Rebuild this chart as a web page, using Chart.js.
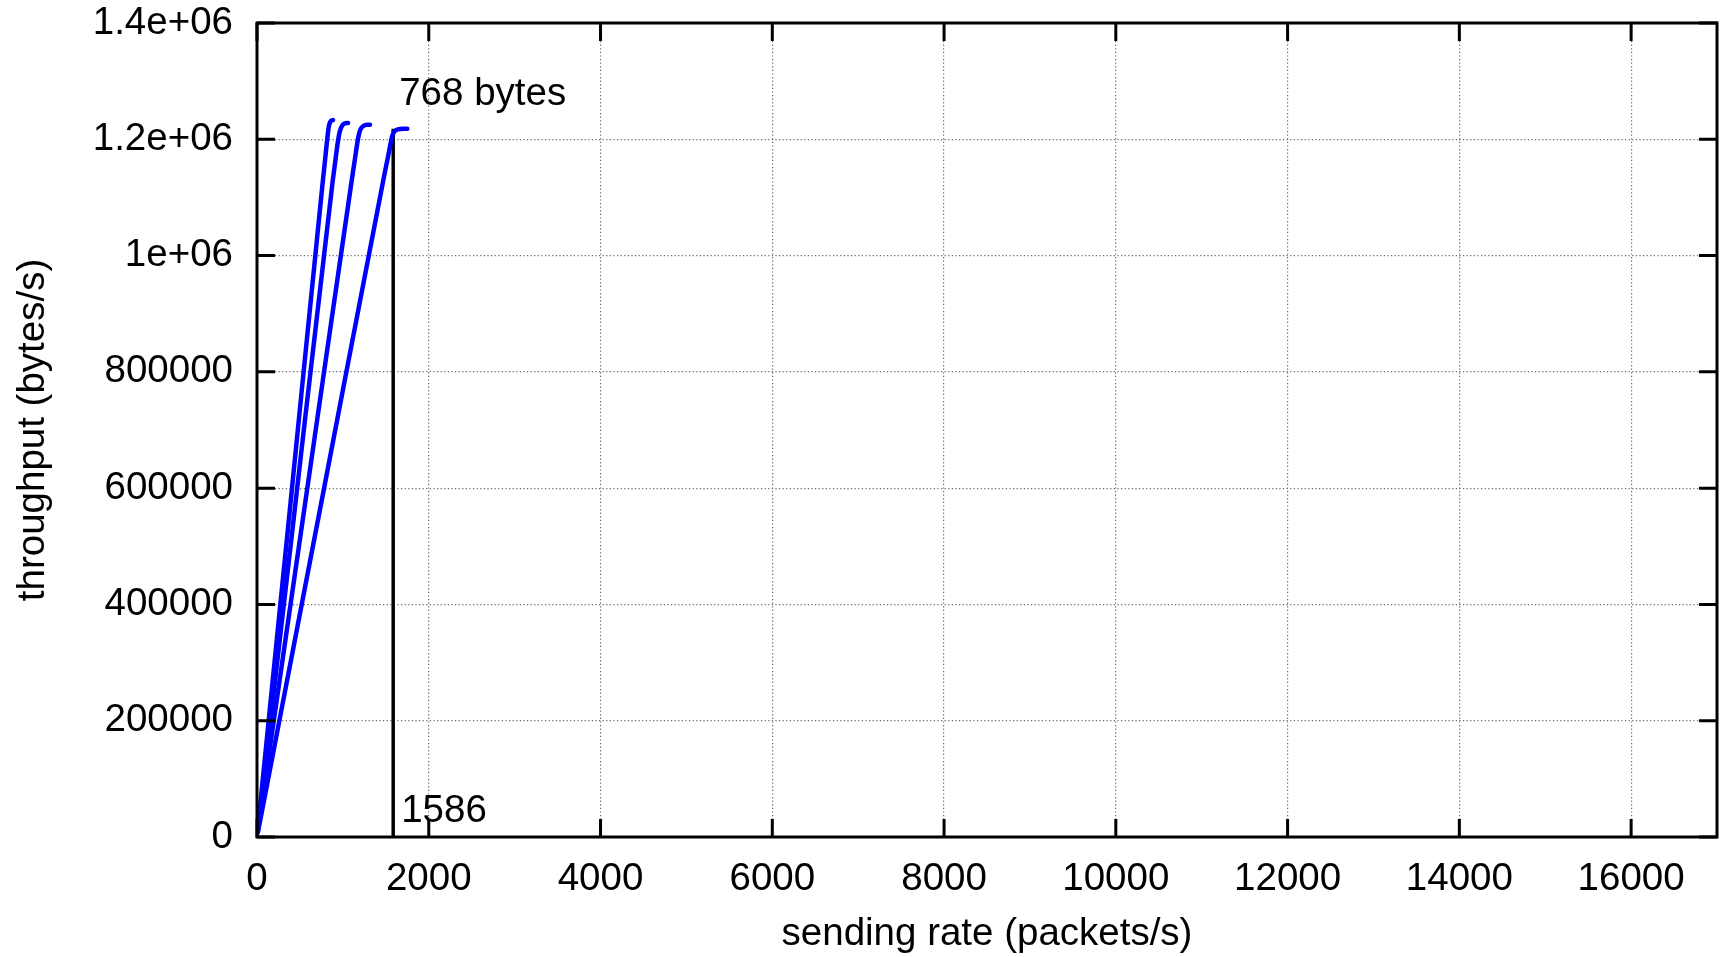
<!DOCTYPE html>
<html>
<head>
<meta charset="utf-8">
<script src="https://cdn.jsdelivr.net/npm/chart.js@4/dist/chart.umd.min.js"></script>
<style>
  html, body { margin: 0; padding: 0; background: #ffffff; }
  #wrap { width: 1725px; height: 957px; position: relative; }
</style>
</head>
<body>
<div id="wrap"><canvas id="c" width="1725" height="957"></canvas></div>
<script>
// Throughput vs sending rate for four packet sizes (bytes)
const packetSizes = [1472, 1280, 1024, 768];

// sending rate (packets/s) and measured throughput (bytes/s) per packet size
const rate1472 = [10, 400, 760, 800, 820, 835, 850, 870, 885];
const thr1472  = [14700, 588800, 1118700, 1175000, 1203000, 1221000, 1229000, 1232500, 1233000];

const rate1280 = [10, 400, 880, 920, 945, 965, 990, 1020, 1060];
const thr1280  = [12800, 512000, 1126400, 1172000, 1199000, 1214000, 1223000, 1227000, 1228000];

const rate1024 = [10, 600, 1100, 1150, 1180, 1205, 1240, 1280, 1315];
const thr1024  = [10240, 614400, 1126400, 1176000, 1204000, 1217000, 1223000, 1225000, 1225000];

const rate768  = [10, 800, 1480, 1540, 1575, 1600, 1640, 1700, 1750];
const thr768   = [7680, 614400, 1136600, 1181000, 1206000, 1213500, 1217000, 1218000, 1218000];

// saturation marker for the 768-byte series
const markRate = 1586;
const markThroughput = 1218048;
const markLabel = '768 bytes';

// axis ticks
const xTickValues = [0, 2000, 4000, 6000, 8000, 10000, 12000, 14000, 16000];
const xTickLabels = ['0', '2000', '4000', '6000', '8000', '10000', '12000', '14000', '16000'];
const yTickValues = [0, 200000, 400000, 600000, 800000, 1000000, 1200000, 1400000];
const yTickLabels = ['0', '200000', '400000', '600000', '800000', '1e+06', '1.2e+06', '1.4e+06'];

const FONT = '"Liberation Sans", Arial, Helvetica, sans-serif';
const FSIZE = 38.5;

function toPoints(xs, ys) { return xs.map((x, i) => ({ x: x, y: ys[i] })); }

const blueSets = [
  [rate1472, thr1472], [rate1280, thr1280], [rate1024, thr1024], [rate768, thr768]
].map(([xs, ys], i) => ({
  label: packetSizes[i] + ' bytes',
  data: toPoints(xs, ys),
  borderColor: '#0000ff',
  borderWidth: 4.5,
  pointRadius: 0,
  cubicInterpolationMode: 'monotone',
  borderCapStyle: 'round',
  fill: false
}));

const markSet = {
  label: 'mark',
  data: [{ x: markRate, y: 0 }, { x: markRate, y: markThroughput }],
  borderColor: '#000000',
  borderWidth: 3.5,
  pointRadius: 0,
  fill: false
};

// frame with inward tick marks on all four sides, plus annotation texts
const framePlugin = {
  id: 'frame',
  afterDatasetsDraw(chart) {
    const ctx = chart.ctx;
    const a = chart.chartArea;
    const xs = chart.scales.x, ys = chart.scales.y;
    const tl = 18;
    ctx.save();
    ctx.strokeStyle = '#000';
    ctx.lineWidth = 3;
    ctx.beginPath();
    xTickValues.forEach(v => {
      const px = xs.getPixelForValue(v);
      ctx.moveTo(px, a.bottom); ctx.lineTo(px, a.bottom - tl);
      ctx.moveTo(px, a.top); ctx.lineTo(px, a.top + tl);
    });
    yTickValues.forEach(v => {
      const py = ys.getPixelForValue(v);
      ctx.moveTo(a.left, py); ctx.lineTo(a.left + tl, py);
      ctx.moveTo(a.right, py); ctx.lineTo(a.right - tl, py);
    });
    ctx.stroke();
    ctx.lineWidth = 3;
    ctx.strokeRect(a.left, a.top, a.right - a.left, a.bottom - a.top);

    // annotation texts anchored at the marker
    ctx.fillStyle = '#000';
    ctx.font = FSIZE + 'px ' + FONT;
    ctx.textAlign = 'left';
    ctx.textBaseline = 'middle';
    const mx = xs.getPixelForValue(markRate);
    ctx.fillText(markLabel, mx + 6, ys.getPixelForValue(markThroughput) - 34);
    ctx.fillText(String(markRate), mx + 8, ys.getPixelForValue(0) - 26);
    ctx.restore();
  }
};

new Chart(document.getElementById('c'), {
  type: 'line',
  data: { datasets: blueSets.concat([markSet]) },
  options: {
    responsive: false,
    animation: false,
    devicePixelRatio: 1,
    layout: { padding: { top: 23, right: 8, left: 0, bottom: 0 } },
    plugins: { legend: { display: false }, tooltip: { enabled: false } },
    scales: {
      x: {
        type: 'linear',
        min: 0, max: 17000,
        afterBuildTicks: s => { s.ticks = xTickValues.map(v => ({ value: v })); },
        afterFit: s => { s.height = 120; s.paddingLeft = 0; s.paddingRight = 0; },
        ticks: {
          callback: (v) => xTickLabels[xTickValues.indexOf(v)],
          color: '#000',
          font: { family: FONT, size: FSIZE },
          padding: 19,
          maxRotation: 0,
          autoSkip: false
        },
        grid: {
          color: '#666',
          lineWidth: 1.2,
          drawTicks: false
        },
        border: { display: false, dash: [1.2, 2.4] },
        title: {
          display: true,
          text: 'sending rate (packets/s)',
          color: '#000',
          font: { family: FONT, size: FSIZE },
          padding: { top: 0, bottom: 0 }
        }
      },
      y: {
        type: 'linear',
        min: 0, max: 1400000,
        afterBuildTicks: s => { s.ticks = yTickValues.map(v => ({ value: v })); },
        afterFit: s => { s.width = 257; s.paddingTop = 0; s.paddingBottom = 0; },
        ticks: {
          callback: (v) => yTickLabels[yTickValues.indexOf(v)],
          color: '#000',
          font: { family: FONT, size: FSIZE },
          padding: 24,
          autoSkip: false
        },
        grid: {
          color: '#666',
          lineWidth: 1.2,
          drawTicks: false
        },
        border: { display: false, dash: [1.2, 2.4] },
        title: {
          display: true,
          text: 'throughput (bytes/s)',
          color: '#000',
          font: { family: FONT, size: FSIZE },
          padding: { top: 10, bottom: 0 }
        }
      }
    }
  },
  plugins: [framePlugin]
});
</script>
</body>
</html>
